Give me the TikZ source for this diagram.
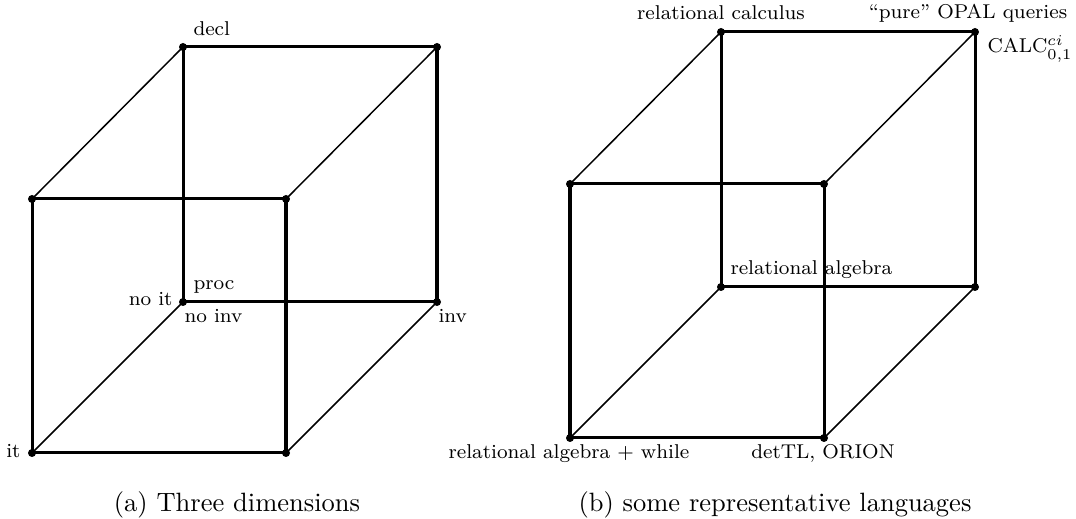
\documentclass[tikz,border=0pt]{standalone}
\begin{document}
\begin{tikzpicture}[x=0.4pt,y=-0.4pt,
  edgethick/.style={line width=1.2pt},
  edgethin/.style={line width=0.6pt},
  vdot/.style={circle,fill=black,inner sep=0pt,minimum size=3.2pt},
  lbl/.style={inner sep=0pt,font=\fontsize{8}{10}\selectfont},
  capt/.style={inner sep=0pt,font=\fontsize{10.6}{13}\selectfont}]
\useasboundingbox (0,0) rectangle (1076,519);
% ---------- left cube ----------
\node[vdot] (a1) at (32,199) {};
\node[vdot] (b1) at (286,199) {};
\node[vdot] (c1) at (32,453) {};
\node[vdot] (d1) at (286,453) {};
\node[vdot] (e1) at (183,47) {};
\node[vdot] (f1) at (437,47) {};
\node[vdot] (g1) at (183,302) {};
\node[vdot] (h1) at (437,302) {};
\draw[edgethin] (a1.center) -- (e1.center);
\draw[edgethin] (b1.center) -- (f1.center);
\draw[edgethin] (c1.center) -- (g1.center);
\draw[edgethin] (d1.center) -- (h1.center);
\draw[edgethick] (e1.center) -- (f1.center);
\draw[edgethick] (g1.center) -- (h1.center);
\draw[edgethick] (e1.center) -- (g1.center);
\draw[edgethick,line width=1.5pt] (f1.center) -- (h1.center);
\draw[edgethick] (a1.center) -- (b1.center);
\draw[edgethick] (c1.center) -- (d1.center);
\draw[edgethick] (a1.center) -- (c1.center);
\draw[edgethick,line width=1.5pt] (b1.center) -- (d1.center);
\node[lbl,anchor=base west] (ldecl) at (193,36) {decl};
\node[lbl,anchor=base west] (lproc) at (193,290) {proc};
\node[lbl,anchor=base east] (lnoit) at (173,306) {no it};
\node[lbl,anchor=base west] (lnoinv) at (184,323) {no inv};
\node[lbl,anchor=base west] (linv) at (438,323) {inv};
\node[lbl,anchor=base east] (lit) at (21,458) {it};
\node[capt,anchor=base] (capa) at (237,512) {(a)\ Three dimensions};
% ---------- right cube ----------
\node[vdot] (a2) at (570,184) {};
\node[vdot] (b2) at (824,184) {};
\node[vdot] (c2) at (570,438) {};
\node[vdot] (d2) at (824,438) {};
\node[vdot] (e2) at (721,32) {};
\node[vdot] (f2) at (975,32) {};
\node[vdot] (g2) at (721,287) {};
\node[vdot] (h2) at (975,287) {};
\draw[edgethin] (a2.center) -- (e2.center);
\draw[edgethin] (b2.center) -- (f2.center);
\draw[edgethin] (c2.center) -- (g2.center);
\draw[edgethin] (d2.center) -- (h2.center);
\draw[edgethick] (e2.center) -- (f2.center);
\draw[edgethick] (g2.center) -- (h2.center);
\draw[edgethick] (e2.center) -- (g2.center);
\draw[edgethick] (f2.center) -- (h2.center);
\draw[edgethick] (a2.center) -- (b2.center);
\draw[edgethick] (c2.center) -- (d2.center);
\draw[edgethick,line width=1.5pt] (a2.center) -- (c2.center);
\draw[edgethick] (b2.center) -- (d2.center);
\node[lbl,anchor=base] (lrc) at (721,20) {relational calculus};
\node[lbl,anchor=base] (lopal) at (968,19) {``pure'' OPAL queries};
\node[lbl,anchor=base west] (lcalc) at (987,53) {CALC$^{ci}_{0,1}$};
\node[lbl,anchor=base west] (lra) at (730,275) {relational algebra};
\node[lbl,anchor=base] (lraw) at (569,459) {relational algebra + while};
\node[lbl,anchor=base] (ldet) at (823,459) {detTL, ORION};
\node[capt,anchor=base] (capb) at (775,512) {(b)\ some representative languages};
\end{tikzpicture}
\end{document}
